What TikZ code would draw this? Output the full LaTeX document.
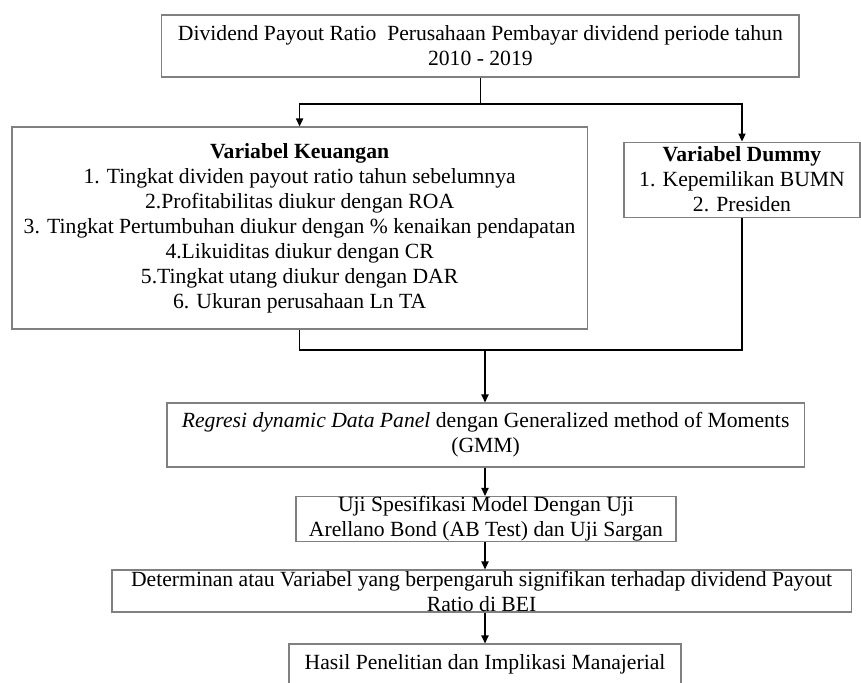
\documentclass[tikz,border=0pt]{standalone}
\usepackage{fontspec}
\setmainfont{Liberation Serif}
\usetikzlibrary{arrows.meta}

\begin{document}
\begin{tikzpicture}[>={Triangle[length=2mm,width=1.8mm]}, line width=0.9pt,
    every node/.style={font=\fontsize{15.4}{17.8}\selectfont},
    box/.style={draw=black!50, line width=0.8pt, align=center, inner sep=0pt}]
    \useasboundingbox (0,0) rectangle (21.525,-17.05);
    \node[box, minimum width=15.93cm, minimum height=1.55cm] (top) at (12.01,-1.15) {Dividend Payout Ratio\ \ Perusahaan Pembayar dividend periode tahun\\2010 - 2019};
    \node[box, minimum width=14.38cm, minimum height=5.05cm] (keu) at (7.49,-5.70) {\textbf{Variabel Keuangan}\\1. Tingkat dividen payout ratio tahun sebelumnya\\2.Profitabilitas diukur dengan ROA\\3. Tingkat Pertumbuhan diukur dengan \% kenaikan pendapatan\\4.Likuiditas diukur dengan CR\\5.Tingkat utang diukur dengan DAR\\6. Ukuran perusahaan Ln TA};
    \node[box, minimum width=5.9cm, minimum height=1.875cm] (dum) at (18.55,-4.49) {\textbf{Variabel Dummy}\\1. Kepemilikan BUMN\\2. Presiden};
    \node[box, minimum width=15.93cm, minimum height=1.6cm] (gmm) at (12.14,-10.875) {\textit{Regresi dynamic Data Panel} dengan Generalized method of Moments\\(GMM)};
    \node[box, minimum width=9.5cm, minimum height=1.05cm] (uji) at (12.15,-12.975) {Uji Spesifikasi Model Dengan Uji\\Arellano Bond (AB Test) dan Uji Sargan};
    \node[box, minimum width=18.48cm, minimum height=1.05cm] (det) at (12.04,-14.775) {Determinan atau Variabel yang berpengaruh signifikan terhadap dividend Payout\\Ratio di BEI};
    \node[box, minimum width=9.8cm, minimum height=1.0cm] (hasil) at (12.125,-16.6) {Hasil Penelitian dan Implikasi Manajerial};
    % split and merge points
    \coordinate (split) at (top.south |- 0,-2.6);
    \coordinate (merge) at (12.125,-8.75);
    \draw (top.south) -- (split);
    \draw[->] (split) -| (keu.north);
    \draw[->] (split) -| (dum.north);
    \draw (keu.south) |- (merge) -| (dum.south);
    \draw[->] (merge) -- (merge |- gmm.north);
    \draw[->] (merge |- gmm.south) -- (merge |- uji.north);
    \draw[->] (merge |- uji.south) -- (merge |- det.north);
    \draw[->] (merge |- det.south) -- (merge |- hasil.north);
\end{tikzpicture}
\end{document}
